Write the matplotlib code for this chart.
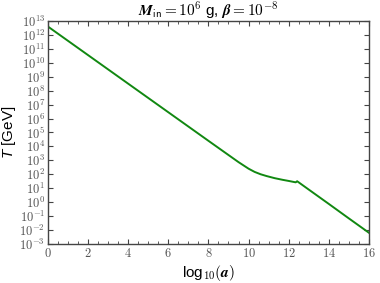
import numpy as np
import matplotlib
matplotlib.use("Agg")
import matplotlib.pyplot as plt
from matplotlib.ticker import FixedLocator, MultipleLocator, FuncFormatter

plt.rcParams['mathtext.fontset'] = 'cm'
plt.rcParams['font.family'] = ['Liberation Sans', 'DejaVu Sans']
# only used for the y label (italic sans T)
plt.rcParams['mathtext.it'] = 'Liberation Sans:italic'
plt.rcParams['mathtext.rm'] = 'Liberation Sans'

### data: log10(a) vs log10(T/GeV)
log_a = [0, 2, 4, 6, 8, 9, 9.5, 10, 10.3, 10.6, 10.9, 11.3, 11.7, 12.0, 12.35, 12.42, 13, 14, 15, 16]
log_T = [12.6, 10.55, 8.5, 6.45, 4.4, 3.38, 2.87, 2.4, 2.17, 2.0, 1.87, 1.72, 1.6, 1.52, 1.42, 1.5, 0.9, -0.13, -1.17, -2.2]

T = 10.0 ** np.array(log_T)

fig = plt.figure(figsize=(3.8, 2.83), dpi=100)
ax = fig.add_axes([0.126, 0.138, 0.845, 0.788])

ax.plot(log_a, T, color='#118811', lw=1.4)

ax.set_yscale('log')
ax.set_xlim(0, 16)
ax.set_ylim(1e-3, 1e13)

ax.yaxis.set_major_locator(FixedLocator(10.0 ** np.arange(-3, 14)))
ax.yaxis.set_minor_locator(FixedLocator([]))
ax.yaxis.set_major_formatter(FuncFormatter(lambda v, p: r'$10^{%d}$' % round(np.log10(v))))
ax.xaxis.set_major_locator(MultipleLocator(2))
ax.xaxis.set_minor_locator(MultipleLocator(0.5))
ax.xaxis.set_major_formatter(FuncFormatter(lambda v, p: r'$%d$' % v))

ax.tick_params(which='both', direction='in', top=True, right=True, colors='#444444', labelcolor='#555555')
ax.tick_params(which='major', length=3.5, width=0.8, labelsize=9, pad=2)
ax.tick_params(which='minor', length=2, width=0.6)
for s in ax.spines.values():
    s.set_color('#444444')
    s.set_linewidth(1.0)

ax.set_xlabel(r'log$_{\mathbf{10}}(\boldsymbol{a})$', fontsize=11, labelpad=2)
ax.set_ylabel(r'$T$ [GeV]', fontsize=11, labelpad=1, math_fontfamily='custom')
ax.set_title(r'$\boldsymbol{M}_{\mathsf{in}}\mathbf{=10^{6}}$ g, $\boldsymbol{\beta}\mathbf{=10^{-8}}$',
             fontsize=11, pad=3)

fig.savefig('out.png', dpi=100)
